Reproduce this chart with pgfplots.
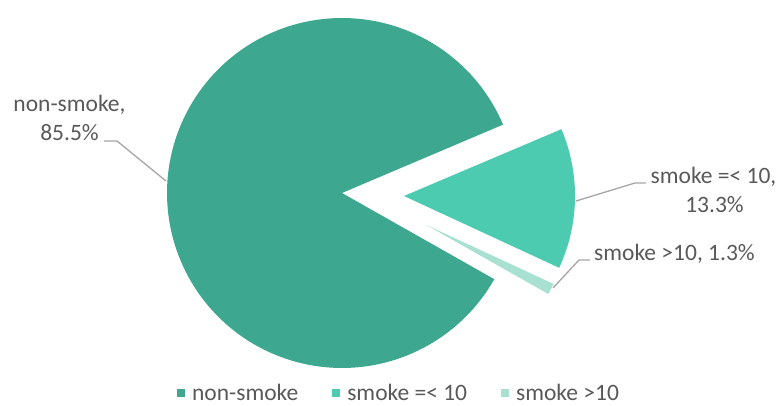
\documentclass[border=0pt]{standalone}
\usepackage{pgfplots}
\pgfplotsset{compat=1.18}
\usepackage{pgfplotstable}
\usepackage{fontspec}
\setmainfont{Carlito}
\definecolor{c1}{HTML}{3DA88F}
\definecolor{c2}{HTML}{4CCBB0}
\definecolor{c3}{HTML}{A8E0D1}
\definecolor{txt}{HTML}{595959}
\definecolor{ldr}{HTML}{A6A6A6}

\pgfplotstableread{
idx value
0 85.5
1 13.3
2 1.3
}\piedata
\pgfplotstablegetelem{0}{value}\of\piedata \let\va\pgfplotsretval
\pgfplotstablegetelem{1}{value}\of\piedata \let\vb\pgfplotsretval
\pgfplotstablegetelem{2}{value}\of\piedata \let\vc\pgfplotsretval
\pgfmathsetmacro\tot{\va+\vb+\vc}
\pgfmathsetmacro\aS{23}
\pgfmathsetmacro\aB{\aS-\vb/\tot*360}
\pgfmathsetmacro\aC{\aB-\vc/\tot*360}
\pgfmathsetmacro\aE{\aC+360}
\pgfmathsetmacro\mC{(\aB+\aC)/2}
\pgfmathsetmacro\pX{551-140*cos(\mC)}
\pgfmathsetmacro\pY{114-140*sin(\mC)}

\begin{document}
\begin{tikzpicture}[font=\fontsize{23.5bp}{29bp}\selectfont]
\begin{axis}[
  hide axis, scale only axis,
  width=779bp, height=403bp,
  xmin=0, xmax=779, ymin=0, ymax=403,
  clip=false,
  area legend,
  legend image code/.code={\fill[#1] (0bp,-4bp) rectangle (8bp,4bp);},
  legend style={at={(axis cs:399,10)}, anchor=center, draw=none, fill=none,
    font=\fontsize{23.5bp}{29bp}\selectfont, text=txt,
    legend columns=3,
    /tikz/every odd column/.append style={column sep=5bp},
    /tikz/every even column/.append style={column sep=32bp}},
]
\addplot[fill=c1, draw=none, domain=\aS:\aE, samples=160, variable=\t]
  ({342+175*cos(t)},{210+175*sin(t)}) -- (axis cs:342,210) -- cycle;
\addlegendentry{non-smoke}
\addplot[fill=c2, draw=none, domain=\aB:\aS, samples=60, variable=\t]
  ({404+171*cos(t)},{207+171*sin(t)}) -- (axis cs:404,207) -- cycle;
\addlegendentry{smoke =< 10}
\addplot[fill=c3, draw=none, domain=\aC:\aB, samples=10, variable=\t]
  ({\pX+140*cos(t)},{\pY+140*sin(t)}) -- (axis cs:\pX,\pY) -- cycle;
\addlegendentry{smoke >10}

\draw[ldr, line width=1.3bp] (axis cs:104,262) -- (axis cs:117,262) -- (axis cs:166,222);
\draw[ldr, line width=1.3bp] (axis cs:576,202) -- (axis cs:635,220) -- (axis cs:646,220);
\draw[ldr, line width=1.3bp] (axis cs:553,115) -- (axis cs:579,143) -- (axis cs:590,143);

\node[txt, anchor=base, inner sep=0] at (axis cs:69.5,291) {non-smoke,};
\node[txt, anchor=base, inner sep=0] at (axis cs:69.5,262) {85.5\%};
\node[txt, anchor=base, inner sep=0] at (axis cs:713.5,219) {smoke =< 10,};
\node[txt, anchor=base, inner sep=0] at (axis cs:714.5,190) {13.3\%};
\node[txt, anchor=base west, inner sep=0] at (axis cs:594,142) {smoke >10, 1.3\%};
\end{axis}
\path (current axis.south west) rectangle (current axis.north east);
\end{tikzpicture}
\end{document}
